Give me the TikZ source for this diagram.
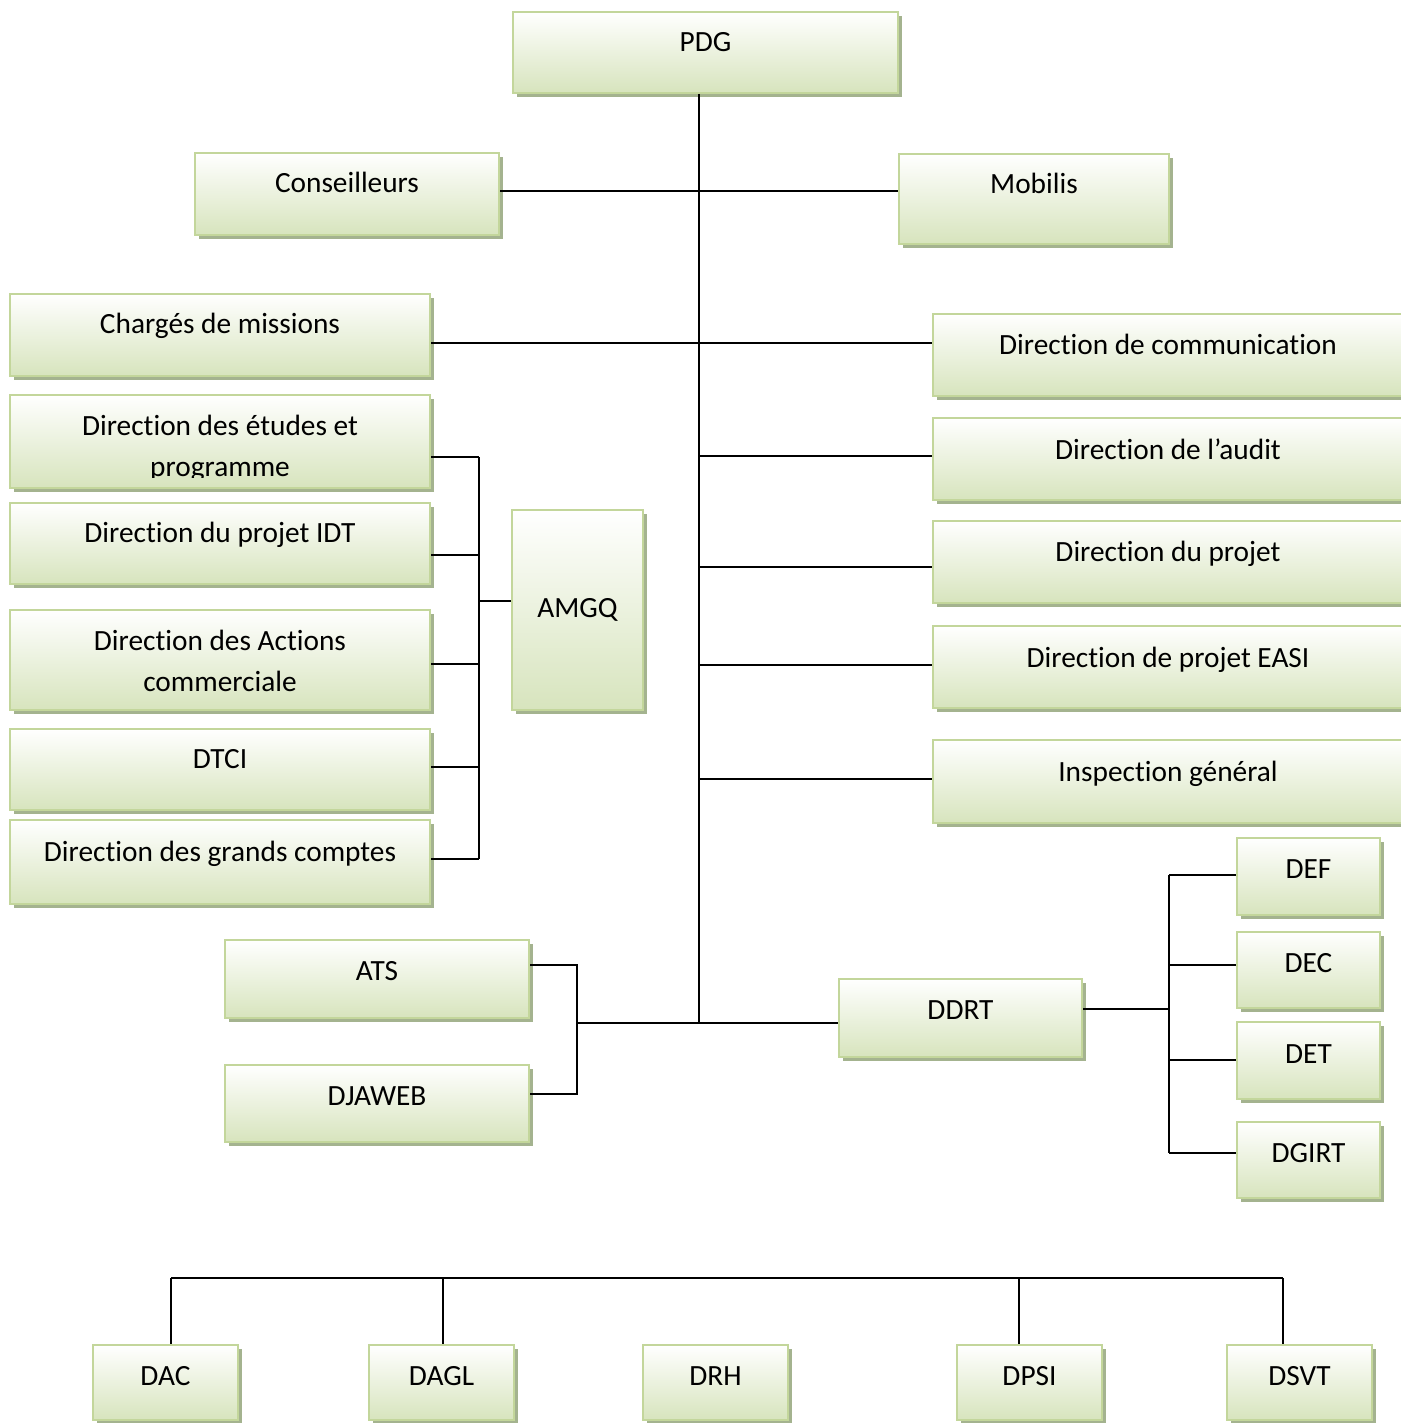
\documentclass[tikz,border=0pt]{standalone}
\usepackage{fontspec}
\setmainfont{Carlito}[Ligatures=NoCommon]
\usetikzlibrary{fit,shadows}
\definecolor{boxedge}{HTML}{C3D69B}
\definecolor{boxfill}{HTML}{D7E4BD}
\definecolor{boxshadow}{HTML}{A4B38F}
\tikzset{
  orgbox/.style={rectangle, inner sep=0pt, draw=boxedge, line width=1.5pt,
    top color=white, bottom color=boxfill,
    drop shadow={shadow xshift=3pt, shadow yshift=-3pt, fill=boxshadow, opacity=1}},
  orglabel/.style={anchor=base, inner sep=0pt, align=center,
    font=\fontsize{22}{30.75}\selectfont},
  link/.style={line width=1.4pt, black}
}
% \unit{name}{x1}{y1}{x2}{y2}{baseline y of last line}{text}
\newcommand\unit[7]{%
  \node[orgbox, fit={(#2,#3) (#4,#5)}] (#1) {};
  \node[orglabel] (#1-t) at ({(#2+#4)/2},#6) {#7};
}
\begin{document}
\begin{tikzpicture}[x=0.75pt, y=-0.75pt]
\useasboundingbox (0,0) rectangle (1400,1423);

% top of the chart
\unit{pdg}{513}{12}{898}{93}{52}{PDG}
\unit{cons}{195}{153}{499}{235}{193}{Conseilleurs}
\unit{mob}{899}{154}{1169}{244}{194}{Mobilis}
\unit{charges}{10}{294}{430}{376}{333}{Chargés de missions}
\unit{comm}{933}{314}{1403}{396}{354}{Direction de communication}

% left column attached to AMGQ
\node[orgbox, fit={(10,395) (430,488)}] (etudes) {};
\begin{scope}
  \clip (10,395) rectangle (430,477);
  \node[orglabel] (etudes-t) at (220,476) {Direction des études et\\programme};
\end{scope}
\unit{idt}{10}{503}{430}{584}{542}{Direction du projet IDT}
\unit{actions}{10}{610}{430}{710}{691}{Direction des Actions\\commerciale}
\unit{dtci}{10}{729}{430}{810}{768}{DTCI}
\unit{comptes}{10}{820}{430}{904}{861}{Direction des grands comptes}
\unit{amgq}{512}{510}{643}{710}{617}{AMGQ}

% right column
\unit{audit}{933}{418}{1403}{500}{459}{Direction de l’audit}
\unit{projet}{933}{521}{1403}{603}{561}{Direction du projet}
\unit{easi}{933}{626}{1403}{708}{667}{Direction de projet EASI}
\unit{insp}{933}{740}{1403}{823}{781}{Inspection général}

% DDRT and its departments
\unit{ddrt}{839}{979}{1082}{1057}{1019}{DDRT}
\unit{def}{1237}{838}{1380}{915}{878}{DEF}
\unit{dec}{1237}{932}{1380}{1008}{972}{DEC}
\unit{det}{1237}{1022}{1380}{1099}{1063}{DET}
\unit{dgirt}{1237}{1122}{1380}{1198}{1162}{DGIRT}

% ATS / DJAWEB
\unit{ats}{225}{940}{529}{1018}{980}{ATS}
\unit{djaweb}{225}{1065}{529}{1142}{1105}{DJAWEB}

% bottom row
\unit{dac}{93}{1345}{238}{1420}{1385}{DAC}
\unit{dagl}{369}{1345}{514}{1420}{1385}{DAGL}
\unit{drh}{643}{1345}{788}{1420}{1385}{DRH}
\unit{dpsi}{957}{1345}{1102}{1420}{1385}{DPSI}
\unit{dsvt}{1227}{1345}{1372}{1420}{1385}{DSVT}

% junction points
\coordinate (jcm) at (699,191);
\coordinate (jcc) at (699,343);
\coordinate (jau) at (699,456);
\coordinate (jpr) at (699,567);
\coordinate (jea) at (699,665);
\coordinate (jin) at (699,779);
\coordinate (jend) at (699,1023);

\coordinate (le) at (479,457);
\coordinate (li) at (479,555);
\coordinate (la) at (479,601);
\coordinate (lc) at (479,664);
\coordinate (lt) at (479,767);
\coordinate (lg) at (479,859);

\coordinate (ja) at (577,965);
\coordinate (jd) at (577,1094);
\coordinate (jm) at (577,1023);

\coordinate (rb) at (1169,1009);
\coordinate (rf) at (1169,875);
\coordinate (rc) at (1169,965);
\coordinate (rt) at (1169,1060);
\coordinate (rg) at (1169,1153);

\coordinate (b1) at (171,1278);
\coordinate (b2) at (443,1278);
\coordinate (b3) at (1019,1278);
\coordinate (b4) at (1283,1278);

% main spine and branches
\draw[link] (pdg.south -| jend) -- (jend);
\draw[link] (cons.east |- jcm) -- (mob.west |- jcm);
\draw[link] (charges.east |- jcc) -- (comm.west |- jcc);
\draw[link] (jau) -- (audit.west |- jau);
\draw[link] (jpr) -- (projet.west |- jpr);
\draw[link] (jea) -- (easi.west |- jea);
\draw[link] (jin) -- (insp.west |- jin);

% AMGQ group
\draw[link] (le) -- (lg);
\draw[link] (etudes.east |- le) -- (le);
\draw[link] (idt.east |- li) -- (li);
\draw[link] (actions.east |- lc) -- (lc);
\draw[link] (dtci.east |- lt) -- (lt);
\draw[link] (comptes.east |- lg) -- (lg);
\draw[link] (la) -- (amgq.west |- la);

% ATS / DJAWEB to DDRT
\draw[link] (ats.east |- ja) -- (ja) -- (jd) -- (djaweb.east |- jd);
\draw[link] (jm) -- (ddrt.west |- jm);

% DDRT departments
\draw[link] (ddrt.east |- rb) -- (rb);
\draw[link] (rf) -- (rg);
\draw[link] (rf) -- (def.west |- rf);
\draw[link] (rc) -- (dec.west |- rc);
\draw[link] (rt) -- (det.west |- rt);
\draw[link] (rg) -- (dgirt.west |- rg);

% bottom row
\draw[link] (b1) -- (b4);
\draw[link] (b1) -- (dac.north -| b1);
\draw[link] (b2) -- (dagl.north -| b2);
\draw[link] (b3) -- (dpsi.north -| b3);
\draw[link] (b4) -- (dsvt.north -| b4);
\end{tikzpicture}
\end{document}
